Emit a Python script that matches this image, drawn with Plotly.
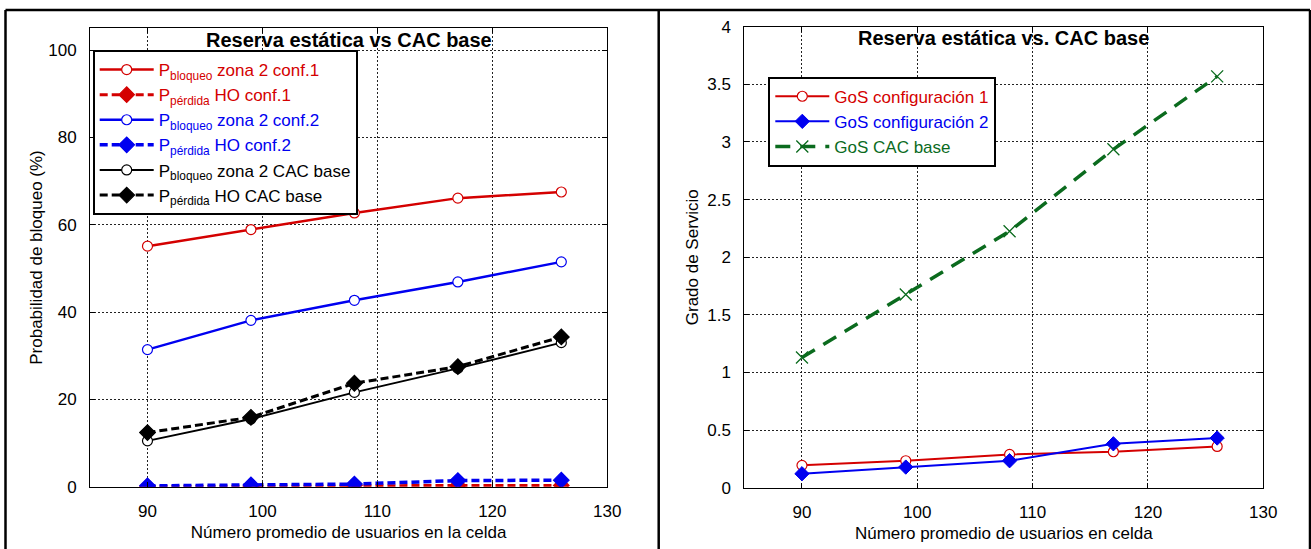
import plotly.graph_objects as go

# ---- data -------------------------------------------------------------
usuarios = [90, 99, 108, 117, 126]

# blocking / handover-loss probabilities (%)
p_bloqueo_conf1 = [55.1, 58.9, 62.7, 66.1, 67.5]
p_perdida_conf1 = [0.0, 0.1, 0.3, 0.3, 0.3]
p_bloqueo_conf2 = [31.4, 38.1, 42.7, 46.9, 51.5]
p_perdida_conf2 = [0.2, 0.4, 0.6, 1.4, 1.5]
p_bloqueo_cac = [10.5, 15.5, 21.6, 27.1, 33.0]
p_perdida_cac = [12.4, 15.9, 23.7, 27.5, 34.3]

# grade of service
gos_conf1 = [0.194, 0.234, 0.289, 0.312, 0.358]
gos_conf2 = [0.121, 0.179, 0.234, 0.381, 0.431]
gos_cac = [1.13, 1.676, 2.225, 2.936, 3.569]

yticks_left = [0, 20, 40, 60, 80, 100]
yticks_right = [0, 0.5, 1, 1.5, 2, 2.5, 3, 3.5, 4]
xticks = [90, 100, 110, 120, 130]

# ---- styling ----------------------------------------------------------
W, H = 1311, 549
FONT = "Liberation Sans, Arial, sans-serif"
RED = "#d40000"
BLUE = "#0000f0"
BLACK = "#000000"
GREEN = "#0b6b1e"


def px_x(p):
    return p / W


def px_y(p):
    return (H - p) / H


def label(text, color):
    return f"<span style='color:{color}'>{text}</span>"


fig = go.Figure()

left_series = [
    (p_bloqueo_conf1, "P<sub>bloqueo</sub> zona 2 conf.1", RED, "solid", 2.5, "circle"),
    (p_perdida_conf1, "P<sub>pérdida</sub> HO conf.1", RED, "8px,4px", 3, "diamond"),
    (p_bloqueo_conf2, "P<sub>bloqueo</sub> zona 2 conf.2", BLUE, "solid", 2.5, "circle"),
    (p_perdida_conf2, "P<sub>pérdida</sub> HO conf.2", BLUE, "8px,4px", 3.5, "diamond"),
    (p_bloqueo_cac, "P<sub>bloqueo</sub> zona 2 CAC base", BLACK, "solid", 2, "circle"),
    (p_perdida_cac, "P<sub>pérdida</sub> HO CAC base", BLACK, "8px,4px", 3, "diamond"),
]
for vals, name, color, dash, width, symbol in left_series:
    is_circle = symbol == "circle"
    fig.add_trace(go.Scatter(
        x=usuarios, y=vals, name=label(name, color), mode="lines+markers",
        line=dict(color=color, width=width, dash=dash),
        marker=dict(symbol=symbol, size=10 if is_circle else 12,
                    color="white" if is_circle else color,
                    line=dict(color=color, width=1.2)),
        xaxis="x", yaxis="y", legend="legend",
    ))

fig.add_trace(go.Scatter(
    x=usuarios, y=gos_conf1, name=label("GoS configuración 1", RED), mode="lines+markers",
    line=dict(color=RED, width=2),
    marker=dict(symbol="circle", size=10, color="white", line=dict(color=RED, width=1.2)),
    xaxis="x2", yaxis="y2", legend="legend2",
))
fig.add_trace(go.Scatter(
    x=usuarios, y=gos_conf2, name=label("GoS configuración 2", BLUE), mode="lines+markers",
    line=dict(color=BLUE, width=2),
    marker=dict(symbol="diamond", size=11, color=BLUE, line=dict(color=BLUE, width=1)),
    xaxis="x2", yaxis="y2", legend="legend2",
))
fig.add_trace(go.Scatter(
    x=usuarios, y=gos_cac, name=label("GoS CAC base", GREEN), mode="lines+markers",
    line=dict(color=GREEN, width=3.5, dash="15px,10px"),
    marker=dict(symbol="x-thin", size=12, color=GREEN, line=dict(color=GREEN, width=1.3)),
    xaxis="x2", yaxis="y2", legend="legend2",
))

axis_common = dict(
    showline=True, linecolor="black", linewidth=1, mirror="ticks",
    ticks="inside", ticklen=5, tickcolor="black",
    showgrid=True, gridcolor="#222", gridwidth=1, griddash="2px,2px",
    zeroline=False, automargin=False,
    tickfont=dict(size=17, color="black", family=FONT),
    title_font=dict(size=17, color="black", family=FONT),
    ticklabelstandoff=9,
)

legend_common = dict(
    xanchor="left", yanchor="top", bgcolor="white",
    bordercolor="black", borderwidth=2,
    font=dict(size=17, family=FONT), itemwidth=54, tracegroupgap=0,
)

fig.update_layout(
    width=W, height=H,
    margin=dict(l=0, r=0, t=0, b=0),
    paper_bgcolor="white", plot_bgcolor="white",
    font=dict(family=FONT, size=17, color="black"),
    xaxis=dict(axis_common, domain=[px_x(90), px_x(607.3)], range=[85, 130],
               tickvals=xticks, anchor="y",
               title=dict(text="Número promedio de usuarios en la celda", standoff=6)),
    yaxis=dict(axis_common, domain=[px_y(486.7), px_y(28.3)], range=[0, 105],
               tickvals=yticks_left, anchor="x",
               title=dict(text="Probabilidad de bloqueo (%)", standoff=1)),
    xaxis2=dict(axis_common, domain=[px_x(744.3), px_x(1263.3)], range=[85, 130],
                tickvals=xticks, anchor="y2",
                title=dict(text="Número promedio de usuarios en celda", standoff=6)),
    yaxis2=dict(axis_common, domain=[px_y(487.7), px_y(26.7)], range=[0, 4],
                tickvals=yticks_right, anchor="x2",
                title=dict(text="Grado de Servicio", standoff=4)),
    legend=dict(legend_common, x=px_x(92.7), y=px_y(50)),
    legend2=dict(legend_common, x=px_x(768.3), y=px_y(76.7)),
    showlegend=True,
    annotations=[
        dict(text="<b>Reserva estática vs CAC base</b>", xref="x domain", yref="y domain",
             x=0.5, y=(486.7 - 39.6) / (486.7 - 28.3), xanchor="center", yanchor="middle",
             showarrow=False, font=dict(size=20, color="black", family=FONT)),
        dict(text="<b>Reserva estática vs. CAC base</b>", xref="x2 domain", yref="y2 domain",
             x=0.5, y=(487.7 - 38.3) / (487.7 - 26.7), xanchor="center", yanchor="middle",
             showarrow=False, font=dict(size=20, color="black", family=FONT)),
    ],
    shapes=[
        # panel frames
        dict(type="line", xref="paper", yref="paper", x0=px_x(5.5), x1=px_x(1310),
             y0=px_y(10), y1=px_y(10), line=dict(color="black", width=2.5)),
        dict(type="line", xref="paper", yref="paper", x0=px_x(5.5), x1=px_x(5.5),
             y0=-0.02, y1=px_y(10), line=dict(color="black", width=2.5)),
        dict(type="line", xref="paper", yref="paper", x0=px_x(658.7), x1=px_x(658.7),
             y0=-0.02, y1=px_y(10), line=dict(color="black", width=2.5)),
        dict(type="line", xref="paper", yref="paper", x0=px_x(1310), x1=px_x(1310),
             y0=-0.02, y1=px_y(10), line=dict(color="black", width=2.5)),
    ],
)

fig.write_html("out.html")
